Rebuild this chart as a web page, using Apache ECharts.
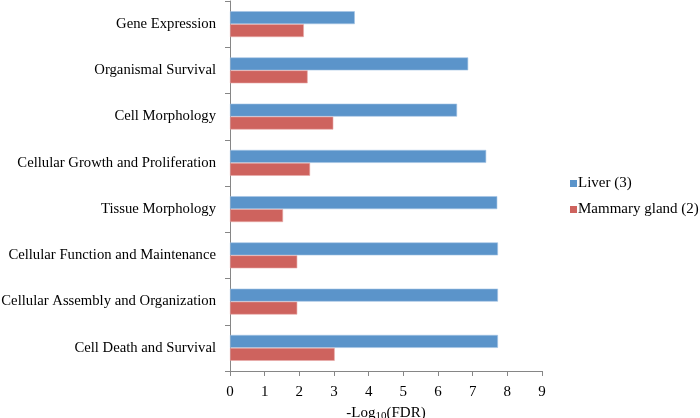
<!DOCTYPE html>
<html><head><meta charset="utf-8">
<script src="https://cdn.jsdelivr.net/npm/echarts@6/dist/echarts.min.js"></script>
<style>html,body{margin:0;padding:0;background:#fff}#c{width:700px;height:418px}</style>
</head><body><div id="c"></div>
<script>
const categories = ["Gene Expression","Organismal Survival","Cell Morphology","Cellular Growth and Proliferation","Tissue Morphology","Cellular Function and Maintenance","Cellular Assembly and Organization","Cell Death and Survival"];
const liver = [3.60, 6.87, 6.55, 7.39, 7.71, 7.73, 7.73, 7.73];
const mammary = [2.13, 2.24, 2.98, 2.31, 1.53, 1.94, 1.94, 3.02];
const xTicks = [0,1,2,3,4,5,6,7,8,9];
const font = "'Liberation Serif','Times New Roman',serif";
const chart = echarts.init(document.getElementById('c'));
chart.setOption({
  animation:false,
  backgroundColor:'#fff',
  textStyle:{fontFamily:font},
  grid:{left:230,top:1,right:158,bottom:47,containLabel:false,outerBoundsMode:'none'},
  legend:{
    orient:'vertical', left:565, top:171, itemWidth:7, itemHeight:7, itemGap:11,
    icon:'rect',
    itemStyle:{borderWidth:0},
    textStyle:{fontFamily:font,fontSize:15,color:'#000',padding:[0,0,0,-4]},
    data:['Liver (3)','Mammary gland (2)']
  },
  xAxis:{
    type:'value', min:xTicks[0], max:xTicks[xTicks.length-1], interval:1,
    axisLine:{show:true,lineStyle:{color:'#868686'}},
    axisTick:{show:true,length:5,lineStyle:{color:'#868686'}},
    splitLine:{show:false},
    axisLabel:{fontFamily:font,fontSize:15,color:'#000',margin:14},
    name:'-Log{sub|10}(FDR)', nameLocation:'middle', nameGap:34,
    nameTextStyle:{fontFamily:font,fontSize:15,color:'#000',
      rich:{sub:{fontFamily:font,fontSize:11,verticalAlign:'bottom',padding:[6,0,0,0],color:'#000'}}}
  },
  yAxis:{
    type:'category', inverse:true, data:categories,
    axisLine:{show:true,lineStyle:{color:'#868686'}},
    axisTick:{show:true,length:5,lineStyle:{color:'#868686'}},
    axisLabel:{fontFamily:font,fontSize:14.7,color:'#000',margin:14}
  },
  series:[
    {name:'Liver (3)',type:'bar',data:liver,barGap:'0%',barCategoryGap:'44%',
     itemStyle:{color:'#5B94CA',borderColor:'#a4c4e4',borderWidth:0.6}},
    {name:'Mammary gland (2)',type:'bar',data:mammary,barGap:'0%',barCategoryGap:'44%',
     itemStyle:{color:'#CE635E',borderColor:'#e7aaa7',borderWidth:0.6}}
  ]
});
</script></body></html>
